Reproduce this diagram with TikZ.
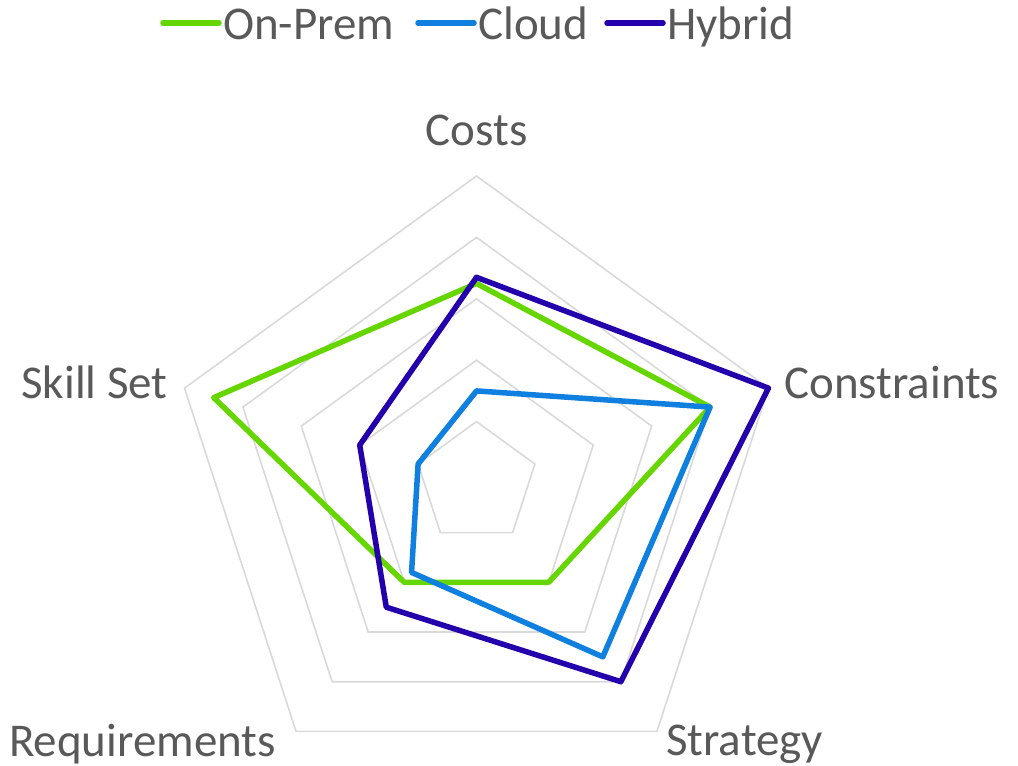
\documentclass[tikz,border=0pt]{standalone}
\usepackage{fontspec}
\setmainfont{Carlito}
\definecolor{labelgray}{RGB}{89,89,89}
\definecolor{gridgray}{RGB}{217,217,217}
\definecolor{onpremgreen}{RGB}{102,214,0}
\definecolor{cloudblue}{RGB}{16,128,224}
\definecolor{hybridblue}{RGB}{36,0,172}
\begin{document}
\begin{tikzpicture}[x=1pt,y=1pt,
    lbl/.style={inner sep=0pt,text=labelgray,font=\fontsize{47}{56}\selectfont},
    grid/.style={draw=gridgray,line width=1.6pt,line join=miter},
    series/.style={line width=5.5pt,line join=round,line cap=round},
    onprem/.style={series,draw=onpremgreen},
    cloud/.style={series,draw=cloudblue},
    hybrid/.style={series,draw=hybridblue}]
  \useasboundingbox (0,0) rectangle (1018,-766);
  % legend
  \node[lbl,anchor=base west] (leg-onprem) at (223,-39) {On-Prem};
  \node[lbl,anchor=base west] (leg-cloud) at (478,-39) {Cloud};
  \node[lbl,anchor=base west] (leg-hybrid) at (667,-39) {Hybrid};
  \draw[onprem] (leg-onprem.base west) ++(-4,16) -- ++(-56,0);
  \draw[cloud] (leg-cloud.base west) ++(-4,16) -- ++(-56,0);
  \draw[hybrid] (leg-hybrid.base west) ++(-4,16) -- ++(-56,0);
  % the web, one pentagon per level
  \begin{scope}[shift={(476.5,-483)}]
    \def\unit{61.4}
    \foreach \l in {1,2,...,5}
      \draw[grid] (90:\l*\unit) -- (18:\l*\unit) -- (-54:\l*\unit)
        -- (-126:\l*\unit) -- (162:\l*\unit) -- cycle;
    %% data points, axes clockwise from Costs
    \foreach \v [count=\i] in {3.25,4,2,2,4.5}
      \coordinate (onprem-\i) at ({90-72*(\i-1)}:{\v*\unit});
    \foreach \v [count=\i] in {1.5,4,3.5,1.8,1}
      \coordinate (cloud-\i) at ({90-72*(\i-1)}:{\v*\unit});
    \foreach \v [count=\i] in {3.35,5,4,2.5,2}
      \coordinate (hybrid-\i) at ({90-72*(\i-1)}:{\v*\unit});
    \draw[onprem] (onprem-1) -- (onprem-2) -- (onprem-3) -- (onprem-4) -- (onprem-5) -- cycle;
    \draw[cloud] (cloud-1) -- (cloud-2) -- (cloud-3) -- (cloud-4) -- (cloud-5) -- cycle;
    \draw[hybrid] (hybrid-1) -- (hybrid-2) -- (hybrid-3) -- (hybrid-4) -- (hybrid-5) -- cycle;
  \end{scope}
  % axis names
  \node[lbl,anchor=base] (costs) at (476.5,-145) {Costs};
  \node[lbl,anchor=base west] (constraints) at (784,-398) {Constraints};
  \node[lbl,anchor=base west] (strategy) at (666,-755) {Strategy};
  \node[lbl,anchor=base east] (requirements) at (276,-756) {Requirements};
  \node[lbl,anchor=base east] (skillset) at (168,-398) {Skill Set};
\end{tikzpicture}
\end{document}
